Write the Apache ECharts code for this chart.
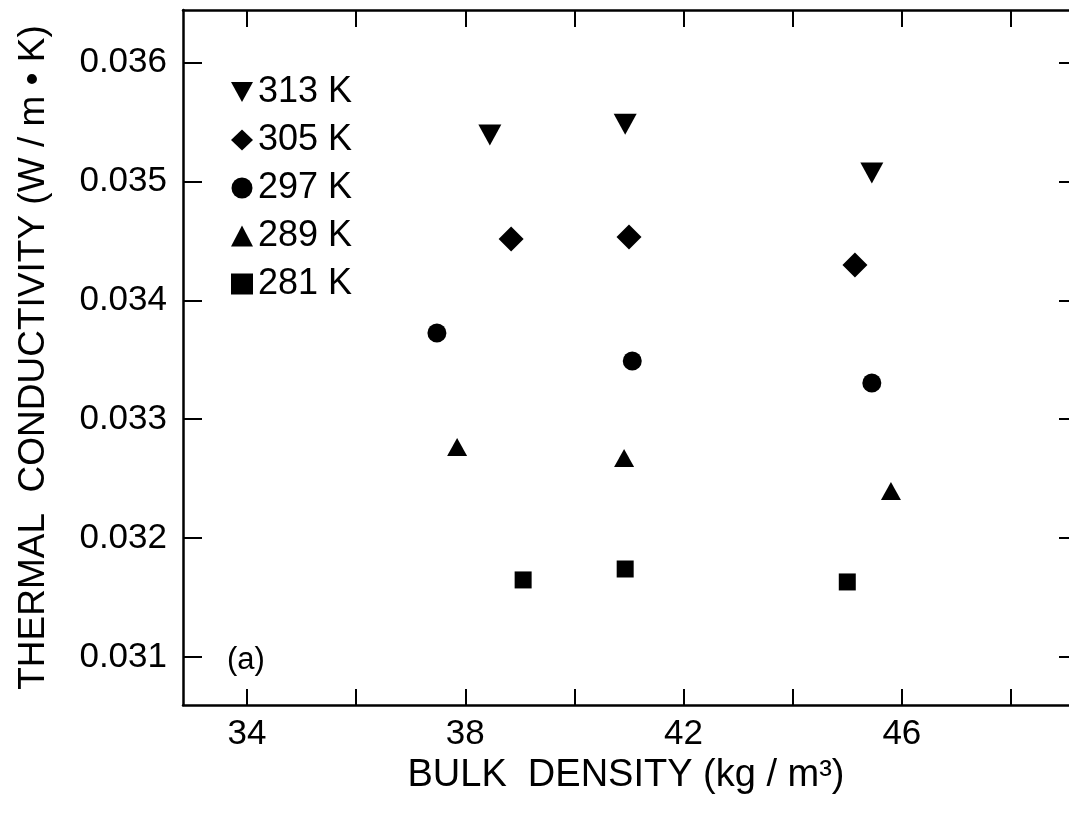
<!DOCTYPE html>
<html>
<head>
<meta charset="utf-8">
<script src="https://cdn.jsdelivr.net/npm/echarts@6/dist/echarts.min.js"></script>
<style>
  html, body { margin: 0; padding: 0; background: #fff; }
  #chart { width: 1069px; height: 816px; }
</style>
</head>
<body>
<div id="chart"></div>
<script>
// series names (temperature)
const names = ["313 K", "305 K", "297 K", "289 K", "281 K"];

// bulk density (kg/m3) and thermal conductivity (W/m.K) per temperature
const x313 = [38.45, 40.93, 45.45];
const y313 = [0.03539, 0.03548, 0.03507];
const x305 = [38.84, 41.0, 45.14];
const y305 = [0.034516, 0.034532, 0.034297];
const x297 = [37.48, 41.06, 45.45];
const y297 = [0.033725, 0.033489, 0.033304];
const x289 = [37.85, 40.91, 45.8];
const y289 = [0.032766, 0.032674, 0.032396];
const x281 = [39.06, 40.93, 45.0];
const y281 = [0.031648, 0.03174, 0.031631];

// ticks
const xTicks = [34, 36, 38, 40, 42, 44, 46, 48];
const xLabels = [34, 38, 42, 46];
const yTicks = [0.031, 0.032, 0.033, 0.034, 0.035, 0.036];

const FONT = "Liberation Sans";
const downTri = "path://M0,0L22,0L11,20Z";

function pairs(xs, ys) {
  return xs.map((x, i) => [x, ys[i]]);
}

const axisLine = { show: true, lineStyle: { color: "#000", width: 2.5 } };
const xMin = 32.827, xMax = 49.063;
const yMin = 0.030596, yMax = 0.036442;

let option = {
  backgroundColor: "#fff",
  animation: false,
  grid: {
    left: 183,
    top: 10,
    right: 0,
    bottom: 111
  },
  legend: {
    orient: "vertical",
    left: 226,
    top: 69,
    itemWidth: 22,
    itemHeight: 21,
    itemGap: 12,
    selectedMode: false,
    textStyle: {
      fontFamily: FONT,
      fontSize: 36,
      lineHeight: 35,
      color: "#000",
      padding: [0, 0, 0, 0]
    },
    data: names
  },
  title: {
    text: "(a)",
    left: 222,
    top: 640,
    textStyle: { fontFamily: FONT, fontSize: 31, fontWeight: "normal", color: "#000" }
  },
  xAxis: [
    {
      type: "value",
      min: xMin,
      max: xMax,
      position: "bottom",
      name: "BULK  DENSITY (kg / m³)",
      nameLocation: "middle",
      nameGap: 45,
      nameTextStyle: { fontFamily: FONT, fontSize: 38, color: "#000" },
      axisLine: axisLine,
      axisTick: {
        inside: true,
        length: 16,
        customValues: xTicks,
        lineStyle: { color: "#000", width: 2 }
      },
      axisLabel: {
        customValues: xLabels,
        margin: 12,
        fontFamily: FONT,
        fontSize: 35,
        color: "#000"
      },
      splitLine: { show: false }
    },
    {
      type: "value",
      min: xMin,
      max: xMax,
      position: "top",
      axisLine: axisLine,
      axisTick: {
        inside: true,
        length: 17,
        customValues: xTicks,
        lineStyle: { color: "#000", width: 2 }
      },
      axisLabel: { show: false },
      splitLine: { show: false }
    }
  ],
  yAxis: [
    {
      type: "value",
      min: yMin,
      max: yMax,
      position: "left",
      name: "THERMAL  CONDUCTIVITY (W / m • K)",
      nameLocation: "middle",
      nameGap: 131,
      nameTextStyle: { fontFamily: FONT, fontSize: 37, color: "#000" },
      axisLine: axisLine,
      axisTick: {
        inside: true,
        length: 19,
        customValues: yTicks,
        lineStyle: { color: "#000", width: 2 }
      },
      axisLabel: {
        customValues: yTicks,
        margin: 16,
        fontFamily: FONT,
        fontSize: 35,
        color: "#000",
        formatter: v => v.toFixed(3)
      },
      splitLine: { show: false }
    },
    {
      type: "value",
      min: yMin,
      max: yMax,
      position: "right",
      axisLine: { show: false },
      axisTick: {
        inside: true,
        length: 10,
        customValues: yTicks,
        lineStyle: { color: "#000", width: 2 }
      },
      axisLabel: { show: false },
      splitLine: { show: false }
    }
  ],
  series: [
    { name: names[0], type: "scatter", symbol: downTri, symbolSize: [23, 21], data: pairs(x313, y313) },
    { name: names[1], type: "scatter", symbol: "diamond", symbolSize: [25, 25], data: pairs(x305, y305) },
    { name: names[2], type: "scatter", symbol: "circle", symbolSize: 19, data: pairs(x297, y297) },
    { name: names[3], type: "scatter", symbol: "triangle", symbolSize: [20, 18], data: pairs(x289, y289) },
    { name: names[4], type: "scatter", symbol: "rect", symbolSize: 17, data: pairs(x281, y281) }
  ].map(s => Object.assign(s, { itemStyle: { color: "#000", opacity: 1 }, silent: true }))
};

const chart = echarts.init(document.getElementById("chart"));
chart.setOption(option);
</script>
</body>
</html>
